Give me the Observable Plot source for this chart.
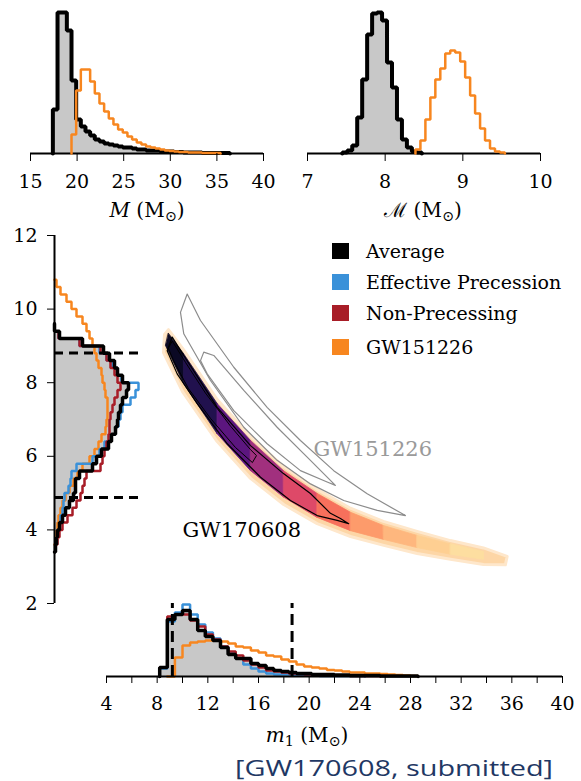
<!DOCTYPE html>
<html>
<head>
<meta charset="utf-8">
<script src="https://cdn.jsdelivr.net/npm/d3@7"></script>
<script src="https://cdn.jsdelivr.net/npm/@observablehq/plot@0.6"></script>
<style>
  html,body{margin:0;padding:0;background:#fff;}
  #wrap{position:relative;width:581px;height:781px;overflow:hidden;font-family:"DejaVu Serif",serif;color:#000;}
  #wrap > svg{position:absolute;left:0;top:0;}
  .lab{position:absolute;white-space:nowrap;font-size:20px;transform:translate(-50%,-50%);line-height:1;}
  .lab sub{font-size:0.72em;vertical-align:-0.25em;line-height:0;}
  .leg{position:absolute;left:332px;height:20px;display:flex;align-items:center;font-size:19px;white-space:nowrap;}
  .leg .sw{display:inline-block;width:17px;height:16px;margin-right:17px;}
  #cap{position:absolute;left:235px;top:756px;font-family:"Open Sans",sans-serif;font-size:22px;color:#1f3864;white-space:nowrap;transform-origin:0 0;line-height:1;}
</style>
</head>
<body>
<div id="wrap"></div>
<script>
// ---------------- data ----------------
const seriesNames  = ["Average", "Effective Precession", "Non-Precessing", "GW151226"];
const seriesColors = ["#000000", "#3a91d9", "#a81d27", "#f7861f"];

const mTicks = [15, 20, 25, 30, 35, 40];
const mcTicks = [7, 8, 9, 10];
const m1Ticks = [4, 6, 8, 10, 12, 14, 16, 18, 20, 22, 24, 26, 28, 30, 32, 34, 36, 38, 40];
const m1TickLabels = [4, 8, 12, 16, 20, 24, 28, 32, 36, 40];
const m2Ticks = [2, 4, 6, 8, 10, 12];

// total mass M histograms
const mBinStart = 17.4, mBinWidth = 0.5;
const mAverage = [44, 141, 141, 123, 73, 34, 27, 22, 18, 14, 12, 10, 9, 8, 7, 6, 6, 5, 4, 4, 3, 3, 3, 2, 2, 2, 1.5, 1.5, 1, 1, 1, 1, 0.5, 0.5, 0.5, 0.5, 0.5, 0.5];
const mGWBinStart = 19.4;
const mGW151226 = [19, 63, 84, 84, 72, 60, 50, 42, 35, 29, 24, 21, 17, 14, 11, 9, 7, 6, 5, 4, 3, 2.5, 2, 1.5, 1.5, 1, 1, 1, 0.5, 0.5, 0.5, 0.5];

// chirp mass histograms
const mcBinStart = 7.448, mcBinWidth = 0.064;
const mcAverage = [1, 3, 8, 36, 74, 119, 140, 141, 133, 91, 66, 34, 14, 6, 2, 1];
const mcGWBinStart = 8.390;
const mcGW151226 = [4, 13, 34, 56, 74, 85, 100, 103, 101, 92, 76, 58, 40, 25, 13, 5, 2, 1];

// m1 histograms
const m1BinStart = 8.2, m1BinWidth = 0.6;
const m1Average = [9, 57, 62, 66, 57, 46, 40, 36, 29, 22, 18, 18, 13, 11, 8, 6, 5, 4, 3, 3, 2, 2, 2, 1.5, 1.5, 1, 1, 1, 1, 0.5, 0.5, 0.5, 0.5, 0.5];
const m1Effective = [8, 55, 64, 72, 62, 52, 44, 38, 30, 24, 18, 12, 8, 5, 3, 2, 2, 1.5, 1, 1, 1, 0.5, 0.5, 0.5, 0.5, 0.5, 0.5];
const m1NonPrecessing = [9, 60, 62, 62, 56, 50, 42, 37, 30, 25, 21, 16, 12, 9, 6, 5, 4, 3, 2.5, 2, 1.5, 1.5, 1, 1, 1, 0.5, 0.5, 0.5, 0.5];
const m1GWBinStart = 8.8;
const m1GW151226 = [0, 19, 31, 34, 35, 36, 37, 35, 33, 30, 29, 26, 24, 21, 20, 17, 15, 12, 10, 9, 8, 6.5, 6, 5, 4, 4, 3, 3, 2.5, 2, 1.5, 1, 0.5];
const m1Bounds = [9.2, 18.65];

// m2 histograms
const m2BinStart = 3.4, m2BinWidth = 0.2;
const m2Average = [1, 2, 3, 5, 8, 11, 15, 19, 21, 21, 25, 38, 42, 47, 54, 57, 61, 63, 64, 66, 68, 72, 74, 68, 63, 60, 55, 49, 28, 5, 0];
const m2Effective = [1, 2, 3, 5, 6, 8, 9, 10, 14, 16, 17, 22, 38, 45, 50, 56, 61, 64, 66, 68, 76, 81, 84, 67, 63, 58, 52, 45, 25, 4, 0];
const m2NonPrecessing = [1, 3, 5, 8, 13, 18, 22, 26, 28, 30, 32, 46, 48, 50, 52, 54, 55, 55, 56, 58, 60, 63, 66, 63, 60, 56, 52, 46, 25, 4, 0];
const m2GWBinStart = 3.6;
const m2GW151226 = [1, 2, 3, 4, 6, 8, 11, 15, 19, 23, 28, 35, 40, 44, 47, 51, 52, 53, 53, 53, 51, 50, 48, 47, 44, 42, 40, 38, 35, 32, 28, 22, 17, 12, 6, 2];
const m2Bounds = [4.88, 8.81];

// GW170608 2D posterior band (m1, m2)
const haloM1 = [8.89, 10.08, 12.74, 15.37, 17.97, 20.63, 23.26, 25.86, 28.52, 31.15, 33.76, 35.63, 35.49, 33.76, 31.15, 28.52, 25.89, 23.26, 20.63, 17.99, 15.37, 12.74, 10.00, 8.50, 8.58];
const haloM2 = [9.44, 8.90, 7.54, 6.54, 5.72, 5.10, 4.59, 4.23, 3.96, 3.71, 3.51, 3.28, 3.05, 3.06, 3.20, 3.36, 3.58, 3.82, 4.17, 4.69, 5.40, 6.40, 7.76, 8.82, 9.31];
const coreUpperM1 = [8.89, 10.08, 12.74, 15.37, 17.97, 20.63, 23.26, 25.86, 28.52, 31.15, 33.76];
const coreUpperM2 = [9.34, 8.79, 7.43, 6.43, 5.61, 4.99, 4.48, 4.12, 3.85, 3.62, 3.41];
const coreLowerM1 = [8.66, 10.10, 12.74, 15.37, 17.99, 20.63, 23.26, 25.89, 28.52, 31.15, 33.76];
const coreLowerM2 = [9.01, 7.97, 6.61, 5.61, 4.89, 4.34, 3.98, 3.74, 3.52, 3.34, 3.20];
const coreDensity = [0.93, 0.86, 0.72, 0.55, 0.40, 0.30, 0.21, 0.15, 0.10, 0.07];
const c90M1 = [9.19, 10.10, 12.74, 15.37, 17.97, 20.10, 21.68, 22.47, 23.12, 22.21, 20.63, 18.52, 16.16, 13.53, 11.16, 9.58, 8.79];
const c90M2 = [9.24, 8.74, 7.33, 6.29, 5.53, 4.99, 4.45, 4.31, 4.17, 4.26, 4.39, 4.80, 5.43, 6.34, 7.43, 8.24, 8.87];
const c50M1 = [9.21, 10.24, 11.81, 13.79, 15.37, 15.84, 15.52, 14.18, 12.21, 10.47, 9.29, 8.89];
const c50M2 = [9.12, 8.55, 7.72, 6.82, 6.18, 6.02, 5.83, 6.24, 7.03, 7.84, 8.60, 8.93];

// GW151226 contours
const gwOuterM1 = [10.37, 11.42, 14.05, 16.68, 19.31, 21.94, 24.58, 27.6, 25.37, 22.73, 20.10, 17.47, 14.84, 12.21, 10.10, 9.84];
const gwOuterM2 = [10.41, 9.69, 8.42, 7.33, 6.43, 5.61, 4.98, 4.39, 4.53, 4.80, 5.25, 5.89, 6.79, 8.06, 9.33, 9.91];
const gwInnerM1 = [11.68, 12.47, 14.84, 17.47, 20.10, 22.07, 21.42, 19.31, 16.68, 14.05, 11.95, 11.42];
const gwInnerM2 = [8.83, 8.74, 7.79, 6.79, 5.89, 5.21, 5.30, 5.61, 6.34, 7.24, 8.24, 8.60];

const bandLabels = ["GW151226", "GW170608"];
const bandLabelM1 = [20.34, 10.0];
const bandLabelM2 = [6.20, 3.98];

// ---------------- helpers ----------------
const GRAY = "#c8c8c8";
const [BLACK, BLUE, RED, ORANGE] = seriesColors;
function steps(start, width, values) {
  const pts = [{x: start, v: 0}];
  values.forEach((v, i) => {
    pts.push({x: start + i * width, v}, {x: start + (i + 1) * width, v});
  });
  pts.push({x: start + values.length * width, v: 0});
  return pts;
}
const pts2 = (a, b) => a.map((m1, i) => ({m1, m2: b[i]}));

const wrap = document.getElementById("wrap");
const W = 581, H = 781;
const baseStyle = {background: "transparent", fontFamily: "'DejaVu Serif', serif", fontSize: "19px", color: "black", overflow: "visible"};
function chart(opts) {
  const svg = Plot.plot({width: W, height: H, style: baseStyle, ...opts});
  wrap.appendChild(svg);
}

// ---- main 2D panel ----
const cells = [];
coreDensity.forEach((d, i) => {
  cells.push({id: i, d, m1: coreUpperM1[i], m2: coreUpperM2[i]});
  cells.push({id: i, d, m1: coreUpperM1[i + 1], m2: coreUpperM2[i + 1]});
  cells.push({id: i, d, m1: coreLowerM1[i + 1], m2: coreLowerM2[i + 1]});
  cells.push({id: i, d, m1: coreLowerM1[i], m2: coreLowerM2[i]});
});
const labelRows = bandLabels.map((name, i) => ({name, m1: bandLabelM1[i], m2: bandLabelM2[i]}));

chart({
  marginLeft: 106, marginRight: 19, marginTop: 235, marginBottom: 178,
  x: {domain: [4, 40], axis: null}, y: {domain: [2, 12], axis: null},
  color: {type: "linear", scheme: "magma", domain: [0, 1], reverse: true},
  marks: [
    Plot.line(pts2(haloM1, haloM2), {x: "m1", y: "m2", fill: "#fdd6a6", stroke: "#fee7cb", strokeWidth: 3, curve: "linear-closed"}),
    Plot.line(cells, {x: "m1", y: "m2", z: "id", fill: "d", stroke: "d", strokeWidth: 0.8, curve: "linear-closed"}),
    Plot.line(pts2(c90M1, c90M2), {x: "m1", y: "m2", stroke: "black", strokeWidth: 1.2, curve: "linear-closed"}),
    Plot.line(pts2(c50M1, c50M2), {x: "m1", y: "m2", stroke: "black", strokeWidth: 1, curve: "linear-closed"}),
    Plot.line(pts2(gwOuterM1, gwOuterM2), {x: "m1", y: "m2", stroke: "#8c8c8c", strokeWidth: 1.2, curve: "linear-closed"}),
    Plot.line(pts2(gwInnerM1, gwInnerM2), {x: "m1", y: "m2", stroke: "#8c8c8c", strokeWidth: 1.2, curve: "linear-closed"}),
    Plot.text(labelRows, {filter: d => d.name === "GW151226", x: "m1", y: "m2", text: "name", textAnchor: "start", fontSize: 21, fill: "#9a9a9a"}),
    Plot.text(labelRows, {filter: d => d.name === "GW170608", x: "m1", y: "m2", text: "name", textAnchor: "start", fontSize: 21, fill: "black"})
  ]
});

// ---- top-left: M ----
chart({
  marginLeft: 30, marginRight: 318, marginTop: 12, marginBottom: 628,
  x: {domain: [15, 40]}, y: {domain: [0, 141], axis: null},
  marks: [
    Plot.line(steps(mBinStart, mBinWidth, mAverage), {x: "x", y: "v", fill: GRAY, stroke: "none"}),
    Plot.ruleY([0], {stroke: "black", strokeWidth: 2}),
    Plot.line(steps(mBinStart, mBinWidth, mAverage), {x: "x", y: "v", stroke: BLACK, strokeWidth: 4, strokeLinejoin: "miter"}),
    Plot.line(steps(mGWBinStart, mBinWidth, mGW151226), {x: "x", y: "v", stroke: ORANGE, strokeWidth: 2.5, strokeLinejoin: "miter"}),
    Plot.axisX({ticks: mTicks, tickSize: 8, tickPadding: 13, label: null, tickFormat: d => String(d)})
  ]
});

// ---- top-right: chirp mass ----
chart({
  marginLeft: 307, marginRight: 41, marginTop: 12, marginBottom: 628,
  x: {domain: [7, 10]}, y: {domain: [0, 141], axis: null},
  marks: [
    Plot.line(steps(mcBinStart, mcBinWidth, mcAverage), {x: "x", y: "v", fill: GRAY, stroke: "none"}),
    Plot.ruleY([0], {stroke: "black", strokeWidth: 2}),
    Plot.line(steps(mcBinStart, mcBinWidth, mcAverage), {x: "x", y: "v", stroke: BLACK, strokeWidth: 4, strokeLinejoin: "miter"}),
    Plot.line(steps(mcGWBinStart, mcBinWidth, mcGW151226), {x: "x", y: "v", stroke: ORANGE, strokeWidth: 2.5, strokeLinejoin: "miter"}),
    Plot.axisX({ticks: mcTicks, tickSize: 8, tickPadding: 13, label: null, tickFormat: d => String(d)})
  ]
});

// ---- bottom: m1 marginal ----
chart({
  marginLeft: 106, marginRight: 19, marginTop: 600, marginBottom: 105,
  x: {domain: [4, 40]}, y: {domain: [0, 76], axis: null},
  marks: [
    Plot.line(steps(m1BinStart, m1BinWidth, m1Average), {x: "x", y: "v", fill: GRAY, stroke: "none"}),
    Plot.line(steps(m1GWBinStart, m1BinWidth, m1GW151226), {x: "x", y: "v", stroke: ORANGE, strokeWidth: 2.5, strokeLinejoin: "miter"}),
    Plot.line(steps(m1BinStart, m1BinWidth, m1Effective), {x: "x", y: "v", stroke: BLUE, strokeWidth: 2.5, strokeLinejoin: "miter"}),
    Plot.line(steps(m1BinStart, m1BinWidth, m1NonPrecessing), {x: "x", y: "v", stroke: RED, strokeWidth: 2.5, strokeLinejoin: "miter"}),
    Plot.ruleY([0], {stroke: "black", strokeWidth: 2}),
    Plot.line(steps(m1BinStart, m1BinWidth, m1Average), {x: "x", y: "v", stroke: BLACK, strokeWidth: 3.5, strokeLinejoin: "miter"}),
    Plot.ruleX(m1Bounds, {y1: 0, y2: 73, stroke: "black", strokeWidth: 3, strokeDasharray: "11,6"}),
    Plot.axisX({ticks: m1Ticks, tickSize: 7, tickPadding: 13, label: null, tickFormat: d => m1TickLabels.includes(d) ? String(d) : ""})
  ]
});

// ---- left: m2 marginal ----
chart({
  marginLeft: 54, marginRight: 427, marginTop: 235, marginBottom: 178,
  x: {domain: [0, 100], axis: null}, y: {domain: [2, 12]},
  marks: [
    Plot.line(steps(m2BinStart, m2BinWidth, m2Average), {x: "v", y: "x", fill: GRAY, stroke: "none"}),
    Plot.line(steps(m2GWBinStart, m2BinWidth, m2GW151226), {x: "v", y: "x", stroke: ORANGE, strokeWidth: 2.5, strokeLinejoin: "miter"}),
    Plot.line(steps(m2BinStart, m2BinWidth, m2Effective), {x: "v", y: "x", stroke: BLUE, strokeWidth: 2.5, strokeLinejoin: "miter"}),
    Plot.line(steps(m2BinStart, m2BinWidth, m2NonPrecessing), {x: "v", y: "x", stroke: RED, strokeWidth: 2.5, strokeLinejoin: "miter"}),
    Plot.line(steps(m2BinStart, m2BinWidth, m2Average), {x: "v", y: "x", stroke: BLACK, strokeWidth: 3.5, strokeLinejoin: "miter"}),
    Plot.ruleX([0], {stroke: "black", strokeWidth: 2}),
    Plot.ruleY(m2Bounds, {x1: 0, x2: 84, stroke: "black", strokeWidth: 3, strokeDasharray: "9,6"}),
    Plot.axisY({ticks: m2Ticks, tickSize: 7, tickPadding: 10, label: null, tickFormat: d => String(d)})
  ]
});

// ---- legend ----
const legendCenters = [251, 282, 313, 347];
seriesNames.forEach((name, i) => {
  const row = document.createElement("div");
  row.className = "leg";
  row.style.top = (legendCenters[i] - 10) + "px";
  row.innerHTML = `<span class="sw" style="background:${seriesColors[i]}"></span><span>${name}</span>`;
  wrap.appendChild(row);
});

// ---- axis labels ----
function label(html, cx, cy) {
  const d = document.createElement("div");
  d.className = "lab";
  d.style.left = cx + "px";
  d.style.top = cy + "px";
  d.innerHTML = html;
  wrap.appendChild(d);
}
label('<i>M</i> (M<sub>⊙</sub>)', 147, 210);
label('ℳ (M<sub>⊙</sub>)', 423, 210);
label('<i>m</i><sub>1</sub> (M<sub>⊙</sub>)', 307, 735);

// ---- caption ----
const cap = document.createElement("div");
cap.id = "cap";
cap.textContent = "[GW170608, submitted]";
wrap.appendChild(cap);
const cw = cap.getBoundingClientRect().width;
cap.style.transform = `scaleX(${318 / cw})`;
</script>
</body>
</html>
